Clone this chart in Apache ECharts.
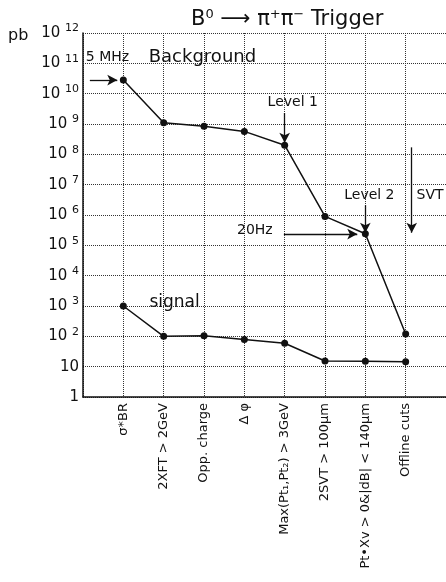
<!DOCTYPE html>
<html>
<head>
<meta charset="utf-8">
<script src="https://cdn.jsdelivr.net/npm/echarts@6/dist/echarts.min.js"></script>
<style>
html, body { margin: 0; padding: 0; background: #fff; }
#chart { width: 446px; height: 582px; }
</style>
</head>
<body>
<div id="chart"></div>
<script>
// 切割条件 (x 轴类别)
var categories = ['σ*BR', '2XFT > 2GeV', 'Opp. charge', 'Δ φ', 'Max(Pt₁,Pt₂) > 3GeV',
    '2SVT > 100μm', 'Pt•Xv > 0&|dB| < 140μm', 'Offline cuts'];
// 本底截面 (pb)
var background = [2.8e10, 1.1e9, 8.4e8, 5.7e8, 2.0e8, 9.0e5, 2.4e5, 120];
// 信号截面 (pb)
var signal = [1000, 100, 105, 78, 59, 15.4, 15, 14.5];

// 注释文字 [文字, x, y, 字号, 对齐]
var notes = [
    ['5 MHz', 0.07, 1.6e11, 14, 'left'],
    ['Background', 1.63, 1.6e11, 18, 'left'],
    ['Level 1', 5.2, 5.2e9, 14, 'center'],
    ['Level 2', 7.1, 4.5e6, 14, 'center'],
    ['SVT', 8.27, 4.5e6, 14, 'left'],
    ['20Hz', 4.26, 3.2e5, 14, 'center'],
    ['signal', 2.27, 1.25e3, 17, 'center']
];
// 箭头 [x1, y1, x2, y2]
var arrows = [
    [0.17, 2.8e10, 0.85, 2.8e10],
    [5.0, 2.3e9, 5.0, 2.4e8],
    [7.0, 2.1e6, 7.0, 2.6e5],
    [8.15, 1.7e8, 8.15, 2.6e5],
    [4.98, 2.35e5, 6.8, 2.35e5]
];

function toPairs(arr) {
    return arr.map(function (v, i) { return [i + 1, v]; });
}

var myChart = echarts.init(document.getElementById('chart'));
var font = 'DejaVu Sans';

var option = {
    animation: false,
    backgroundColor: '#fff',
    textStyle: { fontFamily: font, color: '#111' },
    title: {
        text: '{a|B}{s|0}{a| ⟶ π}{s|+}{a|π}{s|−}{a| Trigger}',
        left: 186,
        top: 3,
        textStyle: {
            fontWeight: 'normal',
            rich: {
                a: { fontSize: 21, fontFamily: font, color: '#111', fontWeight: 'normal' },
                s: { fontSize: 13, fontFamily: font, color: '#111', fontWeight: 'normal', padding: [0, 0, 10, 0] }
            }
        }
    },
    grid: { left: 83, top: 33, bottom: 185, right: -6 },
    xAxis: {
        type: 'value',
        min: 0,
        max: 9,
        interval: 1,
        axisLine: { lineStyle: { color: '#111', width: 1.5 } },
        axisTick: { show: false },
        splitLine: { show: true, lineStyle: { type: 'dotted', color: '#333', width: 1 } },
        axisLabel: {
            rotate: 90,
            margin: 6,
            fontSize: 13,
            color: '#111',
            fontFamily: font,
            formatter: function (v) {
                return categories[v - 1] || '';
            }
        }
    },
    yAxis: {
        type: 'log',
        logBase: 10,
        min: 1,
        max: 1e12,
        interval: 1,
        axisLine: { show: true, lineStyle: { color: '#111', width: 1.5 } },
        axisTick: { show: false },
        splitLine: { show: true, lineStyle: { type: 'dotted', color: '#333', width: 1 } },
        axisLabel: {
            margin: 4,
            fontSize: 15,
            color: '#111',
            fontFamily: font,
            formatter: function (v) {
                var e = Math.round(Math.log10(v));
                if (e === 0) return '{b|1}';
                if (e === 1) return '{b|10}';
                return '{b|10 }{s|' + e + '}';
            },
            rich: {
                b: { fontSize: 15, fontFamily: font, color: '#111' },
                s: { fontSize: 11, fontFamily: font, color: '#111', padding: [0, 0, 9, 0] }
            }
        }
    },
    series: [
        {
            type: 'line',
            data: toPairs(background),
            symbol: 'circle',
            symbolSize: 7,
            itemStyle: { color: '#111' },
            lineStyle: { color: '#111', width: 1.5 },
            markLine: {
                silent: true,
                symbol: ['none', 'arrow'],
                symbolSize: [8, 10],
                label: { show: false },
                lineStyle: { color: '#111', width: 1.3, type: 'solid' },
                data: arrows.map(function (a) {
                    return [{ coord: [a[0], a[1]] }, { coord: [a[2], a[3]] }];
                })
            }
        },
        {
            type: 'line',
            data: toPairs(signal),
            symbol: 'circle',
            symbolSize: 7,
            itemStyle: { color: '#111' },
            lineStyle: { color: '#111', width: 1.5 }
        }
    ]
};
myChart.setOption(option);

// 注释文字放到图上
var graphics = notes.map(function (n) {
    var p = myChart.convertToPixel({ gridIndex: 0 }, [n[1], n[2]]);
    return {
        type: 'text',
        x: p[0],
        y: p[1],
        style: {
            text: n[0],
            fontSize: n[3],
            fontFamily: font,
            fill: '#111',
            align: n[4],
            verticalAlign: 'middle'
        }
    };
});
graphics.push({
    type: 'text',
    x: 8,
    y: 36,
    style: { text: 'pb', fontSize: 16, fontFamily: font, fill: '#111', verticalAlign: 'middle' }
});
myChart.setOption({ graphic: graphics });
</script>
</body>
</html>
